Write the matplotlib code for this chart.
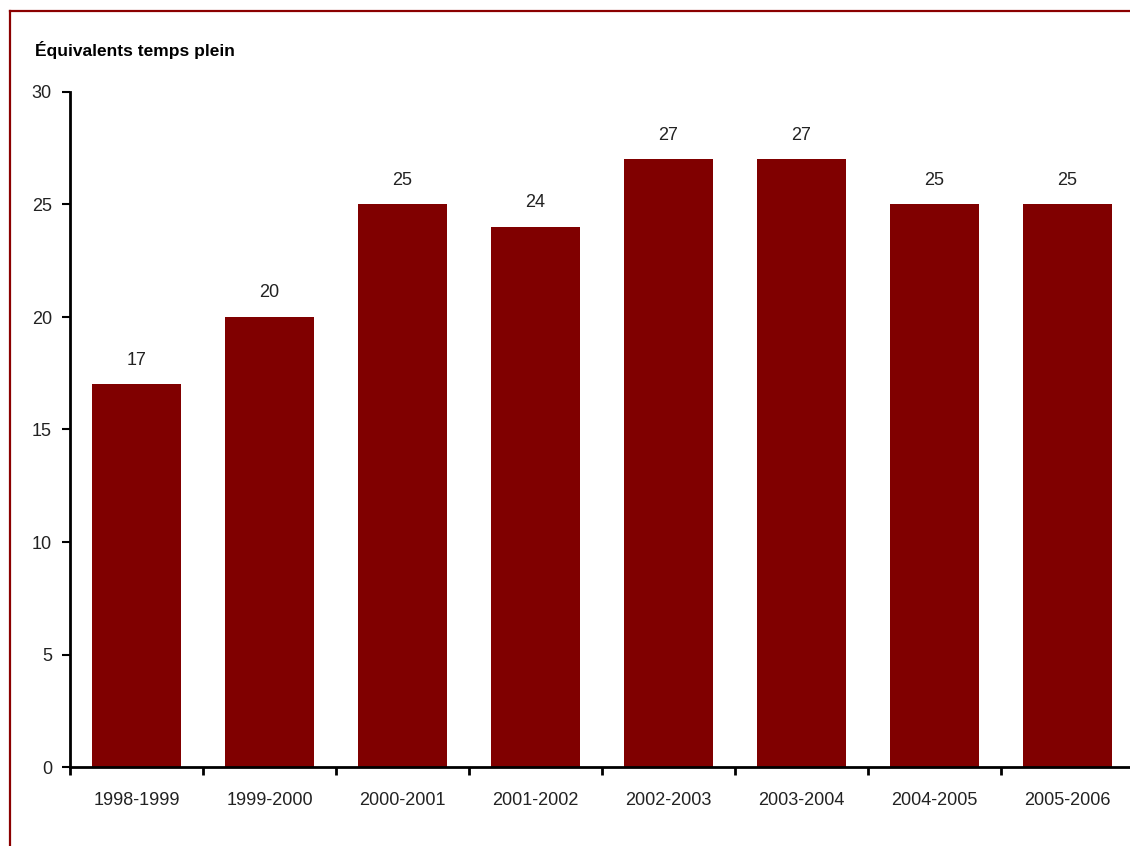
import matplotlib
matplotlib.use("Agg")
import matplotlib.pyplot as plt
from matplotlib import font_manager
from matplotlib.lines import Line2D

categories = ["1998-1999", "1999-2000", "2000-2001", "2001-2002",
              "2002-2003", "2003-2004", "2004-2005", "2005-2006"]
values = [17, 20, 25, 24, 27, 27, 25, 25]
yticks = [0, 5, 10, 15, 20, 25, 30]
title = "Équivalents temps plein"

names = {f.name for f in font_manager.fontManager.ttflist}
fam = ["Liberation Sans Narrow", "DejaVu Sans"] if "Liberation Sans Narrow" in names else ["Liberation Sans", "DejaVu Sans"]
plt.rcParams["font.family"] = fam

W, H = 1130, 846
fig = plt.figure(figsize=(W / 100, H / 100), dpi=100)
left, right, bottom, top = 70, 1134, 767, 92
ax = fig.add_axes([left / W, 1 - bottom / H, (right - left) / W, (bottom - top) / H])

n = len(categories)
xs = list(range(n))
ax.bar(xs, values, width=0.67, color="#800000", zorder=2)
for x, v in zip(xs, values):
    ax.annotate(str(v), (x, v), xytext=(0, 11.5), textcoords="offset points",
                ha="center", va="bottom", fontsize=13, color="#222222")

ax.set_xlim(-0.5, n - 0.5)
ax.set_ylim(0, 30)
ax.set_yticks(yticks)
ax.set_yticklabels([str(t) for t in yticks], fontsize=13, color="#222222")
ax.set_xticks(xs)
ax.set_xticklabels(categories, fontsize=13, color="#222222")
ax.tick_params(axis="x", length=0, pad=18)
ax.set_xticks([i - 0.5 for i in range(n + 1)], minor=True)
ax.tick_params(axis="x", which="minor", length=6, width=2, direction="out")
ax.tick_params(axis="y", length=6, width=1.5, direction="out", pad=7)
for s in ["top", "right"]:
    ax.spines[s].set_visible(False)
for s in ["left", "bottom"]:
    ax.spines[s].set_linewidth(2)
    ax.spines[s].set_color("black")

fig.text(35 / W, 1 - 50 / H, title, fontsize=12.5, fontweight="bold",
         ha="left", va="center", color="black")

border = "#8B0000"
fig.add_artist(Line2D([9.5 / W, 9.5 / W], [0, 1 - 11 / H], color=border, lw=1.6,
                      transform=fig.transFigure))
fig.add_artist(Line2D([9.5 / W, 1.0], [1 - 11 / H, 1 - 11 / H], color=border, lw=1.6,
                      transform=fig.transFigure))

fig.savefig("out.png", dpi=100)
